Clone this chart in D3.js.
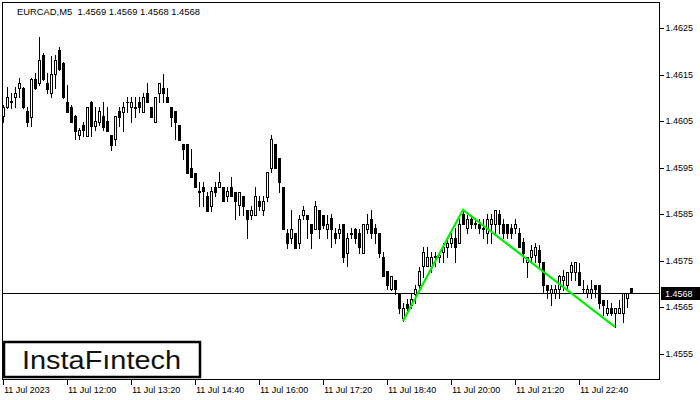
<!DOCTYPE html>
<html>
<head>
<meta charset="utf-8">
<script src="https://cdnjs.cloudflare.com/ajax/libs/d3/7.8.5/d3.min.js"></script>
<style>
  html, body { margin: 0; padding: 0; background: #fff; }
  svg { display: block; }
  text { font-family: "Liberation Sans", Arial, sans-serif; }
</style>
</head>
<body>
<svg id="chart" width="700" height="400"></svg>
<script>
// ---------- DATA (EURCAD, M5, 11 Jul 2023 from 10:40) ----------
const symbolTitle = "EURCAD,M5  1.4569 1.4569 1.4568 1.4568";
const startTime = "2023-07-11T10:40";   // first bar time, 5-minute bars

const open = [
1.46061,1.46080,1.46091,1.46102,1.46121,1.46121,1.46071,1.46059,1.46140,1.46132,
1.46192,1.46132,1.46110,1.46151,1.46203,1.46175,1.46091,1.46080,1.46061,1.46020,
1.46041,1.46018,1.46091,1.46039,1.46048,1.46061,1.46050,1.46020,1.46011,1.46071,
1.46069,1.46091,1.46080,1.46080,1.46091,1.46069,1.46110,1.46080,1.46048,1.46110,
1.46121,1.46102,1.46080,1.46071,1.46041,1.46000,1.46000,1.45949,1.45938,1.45899,
1.45908,1.45889,1.45867,1.45908,1.45908,1.45908,1.45889,1.45908,1.45897,1.45869,
1.45889,1.45859,1.45848,1.45848,1.45878,1.45859,1.45887,1.45949,1.46000,1.45970,
1.45908,1.45809,1.45798,1.45809,1.45788,1.45848,1.45848,1.45828,1.45818,1.45859,
1.45848,1.45818,1.45841,1.45809,1.45809,1.45828,1.45766,1.45809,1.45818,1.45809,
1.45766,1.45818,1.45839,1.45820,1.45809,1.45757,1.45727,1.45689,1.45708,1.45678,
1.45626,1.45656,1.45654,1.45678,1.45697,1.45738,1.45738,1.45738,1.45757,1.45757,
1.45768,1.45779,1.45788,1.45798,1.45788,1.45850,1.45820,1.45839,1.45831,1.45828,
1.45820,1.45809,1.45828,1.45828,1.45850,1.45828,1.45828,1.45820,1.45820,1.45809,
1.45790,1.45747,1.45757,1.45762,1.45773,1.45747,1.45697,1.45680,1.45680,1.45689,
1.45708,1.45697,1.45725,1.45725,1.45725,1.45689,1.45680,1.45680,1.45697,1.45697,
1.45665,1.45637,1.45648,1.45637,1.45637,1.45637,1.45669,1.45690];

const high = [
1.46084,1.46123,1.46110,1.46123,1.46142,1.46123,1.46080,1.46142,1.46153,1.46231,
1.46196,1.46153,1.46190,1.46192,1.46209,1.46177,1.46127,1.46084,1.46063,1.46035,
1.46048,1.46080,1.46093,1.46080,1.46080,1.46091,1.46080,1.46020,1.46061,1.46080,
1.46091,1.46102,1.46102,1.46102,1.46102,1.46110,1.46132,1.46080,1.46102,1.46132,
1.46151,1.46121,1.46080,1.46071,1.46041,1.46000,1.46000,1.45990,1.45938,1.45919,
1.45919,1.45897,1.45908,1.45919,1.45940,1.45908,1.45908,1.45930,1.45897,1.45897,
1.45889,1.45859,1.45867,1.45908,1.45889,1.45889,1.45940,1.46020,1.46000,1.45970,
1.45908,1.45818,1.45859,1.45809,1.45848,1.45867,1.45848,1.45828,1.45878,1.45859,
1.45848,1.45848,1.45850,1.45820,1.45828,1.45828,1.45809,1.45820,1.45820,1.45818,
1.45828,1.45850,1.45859,1.45828,1.45809,1.45768,1.45727,1.45717,1.45708,1.45678,
1.45659,1.45667,1.45678,1.45697,1.45736,1.45779,1.45779,1.45768,1.45768,1.45768,
1.45788,1.45798,1.45809,1.45820,1.45839,1.45859,1.45848,1.45848,1.45841,1.45839,
1.45839,1.45850,1.45850,1.45859,1.45859,1.45839,1.45828,1.45828,1.45839,1.45820,
1.45798,1.45757,1.45783,1.45788,1.45783,1.45747,1.45697,1.45697,1.45697,1.45719,
1.45730,1.45725,1.45747,1.45747,1.45745,1.45708,1.45697,1.45708,1.45697,1.45697,
1.45665,1.45665,1.45659,1.45648,1.45665,1.45680,1.45680,1.45690];

const low = [
1.46048,1.46078,1.46078,1.46080,1.46102,1.46078,1.46039,1.46039,1.46119,1.46127,
1.46138,1.46110,1.46102,1.46121,1.46160,1.46099,1.46069,1.46048,1.46011,1.46011,
1.46018,1.46018,1.46018,1.46031,1.46041,1.46031,1.46028,1.45988,1.45998,1.46039,
1.46028,1.46069,1.46048,1.46059,1.46069,1.46069,1.46091,1.46059,1.46048,1.46091,
1.46091,1.46091,1.46039,1.46011,1.46009,1.45968,1.45938,1.45930,1.45908,1.45867,
1.45867,1.45857,1.45857,1.45889,1.45908,1.45878,1.45878,1.45889,1.45839,1.45848,
1.45848,1.45798,1.45839,1.45848,1.45859,1.45848,1.45878,1.45940,1.45949,1.45897,
1.45818,1.45777,1.45788,1.45777,1.45777,1.45839,1.45798,1.45777,1.45818,1.45798,
1.45820,1.45798,1.45779,1.45788,1.45798,1.45747,1.45738,1.45798,1.45788,1.45766,
1.45766,1.45809,1.45798,1.45788,1.45757,1.45717,1.45689,1.45687,1.45678,1.45637,
1.45620,1.45637,1.45648,1.45659,1.45689,1.45714,1.45738,1.45725,1.45738,1.45747,
1.45747,1.45757,1.45779,1.45747,1.45788,1.45828,1.45809,1.45820,1.45820,1.45809,
1.45798,1.45788,1.45788,1.45809,1.45809,1.45798,1.45798,1.45798,1.45809,1.45779,
1.45747,1.45714,1.45747,1.45747,1.45734,1.45680,1.45669,1.45654,1.45669,1.45669,
1.45687,1.45689,1.45708,1.45708,1.45697,1.45680,1.45672,1.45669,1.45672,1.45648,
1.45633,1.45633,1.45633,1.45607,1.45637,1.45618,1.45650,1.45680];

const close = [
1.46080,1.46102,1.46093,1.46110,1.46132,1.46080,1.46048,1.46140,1.46121,1.46181,
1.46140,1.46119,1.46151,1.46181,1.46162,1.46102,1.46069,1.46048,1.46028,1.46031,
1.46031,1.46080,1.46039,1.46050,1.46071,1.46037,1.46028,1.45998,1.46061,1.46059,
1.46080,1.46090,1.46091,1.46079,1.46080,1.46102,1.46091,1.46059,1.46102,1.46132,
1.46110,1.46091,1.46059,1.46048,1.46009,1.45990,1.45938,1.45930,1.45908,1.45898,
1.45899,1.45857,1.45899,1.45897,1.45919,1.45878,1.45899,1.45889,1.45878,1.45897,
1.45867,1.45839,1.45859,1.45889,1.45867,1.45878,1.45940,1.46011,1.45949,1.45919,
1.45818,1.45788,1.45818,1.45777,1.45839,1.45859,1.45839,1.45809,1.45867,1.45818,
1.45826,1.45828,1.45818,1.45798,1.45818,1.45757,1.45798,1.45807,1.45798,1.45779,
1.45828,1.45828,1.45809,1.45809,1.45766,1.45717,1.45697,1.45717,1.45689,1.45648,
1.45648,1.45648,1.45667,1.45689,1.45727,1.45768,1.45757,1.45757,1.45760,1.45762,
1.45779,1.45788,1.45798,1.45779,1.45828,1.45828,1.45839,1.45828,1.45828,1.45820,
1.45818,1.45839,1.45839,1.45859,1.45828,1.45809,1.45809,1.45809,1.45828,1.45779,
1.45766,1.45757,1.45773,1.45779,1.45747,1.45697,1.45687,1.45689,1.45689,1.45717,
1.45717,1.45725,1.45740,1.45747,1.45697,1.45688,1.45689,1.45689,1.45689,1.45659,
1.45654,1.45648,1.45637,1.45648,1.45648,1.45680,1.45680,1.45680];

// price axis ticks
const priceTicks = [1.4555, 1.4565, 1.4575, 1.4585, 1.4595, 1.4605, 1.4615, 1.4625];
// time axis: bar index and label
const timeTickIdx = [0, 16, 32, 48, 64, 80, 96, 112, 128, 144];
const timeTickLabels = ["11 Jul 2023", "11 Jul 12:00", "11 Jul 13:20", "11 Jul 14:40", "11 Jul 16:00",
                        "11 Jul 17:20", "11 Jul 18:40", "11 Jul 20:00", "11 Jul 21:20", "11 Jul 22:40"];
// current bid
const lastPrice = 1.4568;
const lastPriceLabel = "1.4568";
// detected pattern (green zig-zag): bar index and price
const patternIdx = [100, 115, 153];
const patternPrice = [1.45620, 1.45859, 1.45607];
const logoText = "InstaF\u0131ntech";

// ---------- LAYOUT ----------
const svg = d3.select("#chart");
const plot = { left: 2.5, top: 2.5, right: 659.5, bottom: 379.5 };

const x = d3.scaleLinear().domain([0, 157]).range([3, 631]);
const y = d3.scaleLinear().domain([1.4555, 1.4625]).range([353.5, 28]);

const crisp = v => Math.round(v) + 0.5;

svg.append("rect").attr("width", 700).attr("height", 400).attr("fill", "#fff");

const bars = d3.range(open.length).map(i => ({ i, o: open[i], h: high[i], l: low[i], c: close[i] }));

svg.append("clipPath").attr("id", "plotclip").append("rect")
  .attr("x", plot.left).attr("y", plot.top)
  .attr("width", plot.right - plot.left).attr("height", plot.bottom - plot.top);

const g = svg.append("g").attr("clip-path", "url(#plotclip)");

// current price line
g.append("line")
  .attr("x1", plot.left).attr("x2", plot.right)
  .attr("y1", crisp(y(lastPrice))).attr("y2", crisp(y(lastPrice)))
  .attr("stroke", "#000").attr("stroke-width", 1).attr("shape-rendering", "crispEdges");

// wicks
g.selectAll("line.wick").data(bars).enter().append("line")
  .attr("class", "wick")
  .attr("x1", d => Math.round(x(d.i)) + 0.5).attr("x2", d => Math.round(x(d.i)) + 0.5)
  .attr("y1", d => Math.round(y(d.h))).attr("y2", d => Math.round(y(d.l)) + 1)
  .attr("stroke", "#000").attr("stroke-width", 1).attr("shape-rendering", "crispEdges");

// bodies
g.selectAll("rect.body").data(bars).enter().append("rect")
  .attr("class", "body")
  .attr("x", d => Math.round(x(d.i)) - 1 + (d.c > d.o ? 0.5 : 0))
  .attr("width", d => d.c > d.o ? 2 : 3)
  .attr("y", d => {
    const top = Math.round(y(Math.max(d.o, d.c)));
    return d.c > d.o ? top + 0.5 : top;
  })
  .attr("height", d => {
    const top = Math.round(y(Math.max(d.o, d.c)));
    const bot = Math.round(y(Math.min(d.o, d.c)));
    return d.c > d.o ? Math.max(bot - top, 1) : Math.max(bot - top + 1, 1);
  })
  .attr("fill", d => d.c > d.o ? "#fff" : "#000")
  .attr("stroke", d => d.c > d.o ? "#000" : "none")
  .attr("stroke-width", 1)
  .attr("shape-rendering", "crispEdges");

// pattern lines
const pattern = patternIdx.map((d, k) => [x(d), y(patternPrice[k])]);
g.append("path")
  .attr("d", d3.line()(pattern))
  .attr("fill", "none").attr("stroke", "#00f000").attr("stroke-width", 2.2)
  .attr("stroke-linejoin", "miter");

// frame
svg.append("rect")
  .attr("x", plot.left).attr("y", plot.top)
  .attr("width", plot.right - plot.left).attr("height", plot.bottom - plot.top)
  .attr("fill", "none").attr("stroke", "#000").attr("stroke-width", 1)
  .attr("shape-rendering", "crispEdges");

// right price axis
const yAxis = d3.axisRight(y).tickValues(priceTicks).tickSize(4).tickPadding(2)
  .tickFormat(d3.format(".4f"));
const ya = svg.append("g").attr("transform", `translate(${plot.right},0)`).call(yAxis);
ya.select(".domain").remove();
ya.selectAll(".tick line").attr("stroke", "#000").attr("shape-rendering", "crispEdges");
ya.selectAll(".tick text").attr("font-size", 9).attr("fill", "#000")
  .attr("font-family", "'Liberation Sans', Arial, sans-serif");

// last price box
const ly = y(lastPrice);
svg.append("rect").attr("x", 661).attr("y", Math.round(ly) - 6).attr("width", 39).attr("height", 13)
  .attr("fill", "#000");
svg.append("text").attr("x", 665).attr("y", Math.round(ly) + 4)
  .attr("font-size", 9).attr("fill", "#fff").text(lastPriceLabel);

// bottom time axis
const tx = svg.append("g");
tx.selectAll("line").data(timeTickIdx).enter().append("line")
  .attr("x1", d => Math.round(x(d)) + 0.5).attr("x2", d => Math.round(x(d)) + 0.5)
  .attr("y1", plot.bottom).attr("y2", plot.bottom + 5)
  .attr("stroke", "#000").attr("shape-rendering", "crispEdges");
tx.selectAll("text").data(timeTickIdx).enter().append("text")
  .attr("x", d => Math.round(x(d)) + 1).attr("y", 393)
  .attr("font-size", 9).attr("fill", "#000")
  .text((d, k) => timeTickLabels[k]);

// title
svg.append("text").attr("x", 17).attr("y", 15).attr("font-size", 9.4).attr("fill", "#000")
  .style("white-space", "pre")
  .text(symbolTitle);

// logo
svg.append("rect").attr("x", 4).attr("y", 342).attr("width", 196).attr("height", 35)
  .attr("fill", "#fff").attr("stroke", "#000").attr("stroke-width", 2.5);
svg.append("text").attr("x", 22).attr("y", 369)
  .attr("font-family", "Lato, 'Open Sans', sans-serif").attr("font-size", 25).attr("font-weight", 500)
  .attr("fill", "#111").attr("textLength", 159).attr("lengthAdjust", "spacingAndGlyphs")
  .text(logoText);
</script>
</body>
</html>
